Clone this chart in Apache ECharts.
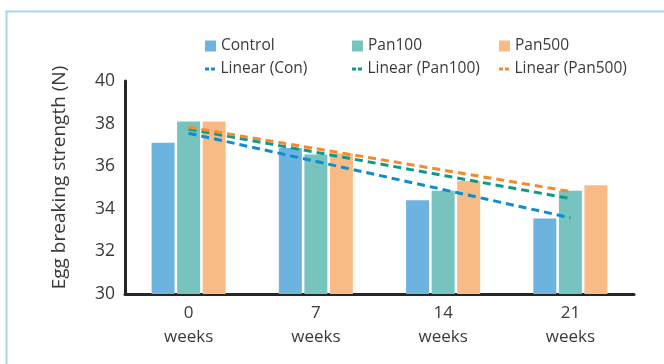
<!DOCTYPE html>
<html>
<head>
<meta charset="utf-8">
<script src="https://cdn.jsdelivr.net/npm/echarts@6/dist/echarts.min.js"></script>
<style>html,body{margin:0;padding:0;background:#fff}#c{width:664px;height:364px}</style>
</head>
<body>
<div id="c"></div>
<script>
const categories = ['0\nweeks', '7\nweeks', '14\nweeks', '21\nweeks'];
const control = [37.1, 36.85, 34.4, 33.55];
const pan100 = [38.1, 36.55, 34.85, 34.85];
const pan500 = [38.1, 36.6, 35.3, 35.1];
const trendCon = [37.55, null, null, 33.58];
const trendPan100 = [37.74, null, null, 34.48];
const trendPan500 = [37.83, null, null, 34.81];
const yTicks = { min: 30, max: 40, interval: 2 };

const FONT = '"Open Sans", sans-serif';
const TXT = '#3a3a3a';
const colors = {
  control: '#6db3df', pan100: '#76c4bd', pan500: '#f9bb86',
  lCon: '#0b8dd2', lPan100: '#0b9b89', lPan500: '#f6892c'
};
const dashIcon = 'path://M0,0h4v3h-4z M6,0h4v3h-4z';

function barLegend(name, left) {
  return { data: [name], left: left, top: 33, icon: 'rect', itemWidth: 11, itemHeight: 11, itemGap: 0,
    textStyle: { fontFamily: FONT, fontSize: 15.5, color: TXT }, selectedMode: false };
}
function lineLegend(name, left) {
  return { data: [{ name: name, icon: dashIcon }], left: left, top: 56, itemWidth: 11, itemHeight: 3, itemGap: 0,
    textStyle: { fontFamily: FONT, fontSize: 15.5, color: TXT }, selectedMode: false };
}
function trend(name, data, color) {
  return { name: name, type: 'line', data: data, connectNulls: true, symbol: 'none', silent: true,
    itemStyle: { color: color },
    lineStyle: { color: color, width: 3, type: [8, 5] }, z: 5 };
}
function bars(name, data, color) {
  return { name: name, type: 'bar', data: data, barWidth: 23, barGap: '11%', itemStyle: { color: color } };
}

const chart = echarts.init(document.getElementById('c'));
chart.setOption({
  animation: false,
  graphic: [{ type: 'rect', shape: { x: 6.5, y: 11.5, width: 700, height: 400 },
    style: { fill: 'none', stroke: '#a9d4ee', lineWidth: 2 }, silent: true }],
  legend: [
    barLegend('Control', 200), barLegend('Pan100', 347), barLegend('Pan500', 494),
    lineLegend('Linear (Con)', 200), lineLegend('Linear (Pan100)', 347), lineLegend('Linear (Pan500)', 494)
  ],
  grid: { left: 125, right: 30, top: 81, bottom: 70 },
  xAxis: {
    type: 'category', data: categories,
    axisLine: { lineStyle: { color: '#262626', width: 3 } },
    axisTick: { show: false },
    axisLabel: { fontFamily: FONT, fontSize: 17, color: TXT, lineHeight: 24, margin: 7 }
  },
  yAxis: {
    type: 'value', min: yTicks.min, max: yTicks.max, interval: yTicks.interval,
    name: 'Egg breaking strength (N)', nameLocation: 'middle', nameGap: 56, nameRotate: 90,
    nameTextStyle: { fontFamily: FONT, fontSize: 19, color: TXT, padding: [0, 0, 0, 20] },
    axisLine: { show: true, lineStyle: { color: '#262626', width: 3 } },
    axisTick: { show: false }, splitLine: { show: false },
    axisLabel: { fontFamily: FONT, fontSize: 17.5, color: TXT, margin: 10 }
  },
  series: [
    bars('Control', control, colors.control),
    bars('Pan100', pan100, colors.pan100),
    bars('Pan500', pan500, colors.pan500),
    trend('Linear (Con)', trendCon, colors.lCon),
    trend('Linear (Pan100)', trendPan100, colors.lPan100),
    trend('Linear (Pan500)', trendPan500, colors.lPan500)
  ]
});
</script>
</body>
</html>
